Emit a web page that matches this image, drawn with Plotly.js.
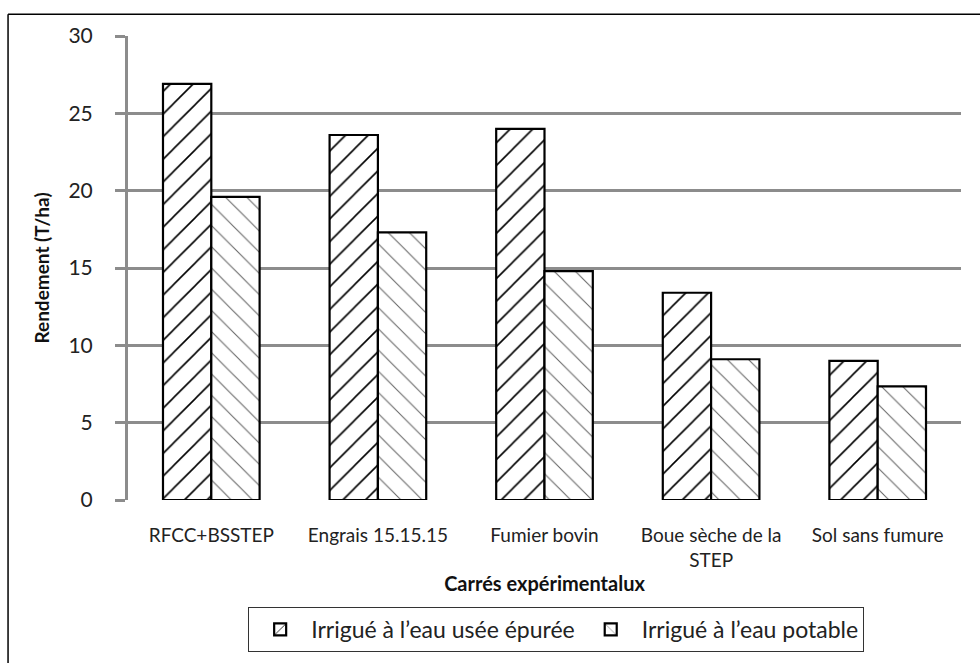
<!DOCTYPE html>
<html>
<head>
<meta charset="utf-8">
<script src="https://cdn.plot.ly/plotly-3.0.1.min.js"></script>
<style>html,body{margin:0;padding:0;background:#fff;}#chart{width:980px;height:663px;}</style>
</head>
<body>
<div id="chart"></div>
<script>
const categories = ["RFCC+BSSTEP", "Engrais 15.15.15", "Fumier bovin", "Boue sèche de la<br>STEP", "Sol sans fumure"];
const seriesNames = ["Irrigué à l’eau usée épurée", "Irrigué à l’eau potable"];
const eauUsee = [26.9, 23.6, 24.0, 13.4, 9.0];
const eauPotable = [19.6, 17.3, 14.8, 9.1, 7.35];
const yTicks = [0, 5, 10, 15, 20, 25, 30];

const FONT = "Lato, Open Sans, sans-serif";

const traces = [
  {
    type: "bar", x: categories, y: eauUsee, name: seriesNames[0],
    marker: {color: "white", line: {color: "black", width: 2.2},
      pattern: {shape: "/", fgcolor: "black", bgcolor: "white", size: 16, solidity: 0.1}}
  },
  {
    type: "bar", x: categories, y: eauPotable, name: seriesNames[1],
    marker: {color: "white", line: {color: "black", width: 2.2},
      pattern: {shape: "\\", fgcolor: "#666", bgcolor: "white", size: 15, solidity: 0.07}}
  }
];

const layout = {
  width: 980, height: 663,
  margin: {l: 128, r: 19, t: 36, b: 162},
  paper_bgcolor: "white", plot_bgcolor: "white",
  barmode: "group", bargap: 0.42, bargroupgap: 0,
  font: {family: FONT, size: 19, color: "#222"},
  xaxis: {
    type: "category", showgrid: false, zeroline: false, ticks: "", showline: false,
    tickfont: {family: FONT, size: 19, color: "#222"},
    ticklabelstandoff: 22,
    title: {text: "<b>Carrés expérimentalux</b>", font: {family: FONT, size: 20, color: "#111"}, standoff: 0}
  },
  yaxis: {
    range: [0, 30], tickvals: yTicks, showgrid: true, gridcolor: "#8c8c8c", gridwidth: 3,
    zeroline: false, showline: true, linecolor: "#8c8c8c", linewidth: 3,
    ticks: "outside", ticklen: 10, tickcolor: "#8c8c8c", tickwidth: 3,
    tickfont: {family: FONT, size: 21, color: "#222"},
    ticklabelstandoff: 18,
    title: {text: "<b>Rendement (T/ha)</b>", font: {family: FONT, size: 19, color: "#111"}, standoff: 14}
  },
  legend: {
    orientation: "h", x: 0.514, xanchor: "center", y: -0.228, yanchor: "top",
    bordercolor: "#333", borderwidth: 1, bgcolor: "white",
    font: {family: FONT, size: 23, color: "#222"}, traceorder: "normal",
    itemwidth: 52
  },
  showlegend: true,
  shapes: [
    {type: "line", xref: "paper", yref: "paper", x0: -0.144, x1: 1.03, y0: 1.047, y1: 1.047, line: {color: "black", width: 1.5}},
    {type: "line", xref: "paper", yref: "paper", x0: -0.144, x1: -0.144, y0: 1.047, y1: -0.36, line: {color: "black", width: 1.5}}
  ]
};

Plotly.newPlot("chart", traces, layout, {displayModeBar: false, staticPlot: true});
</script>
</body>
</html>
